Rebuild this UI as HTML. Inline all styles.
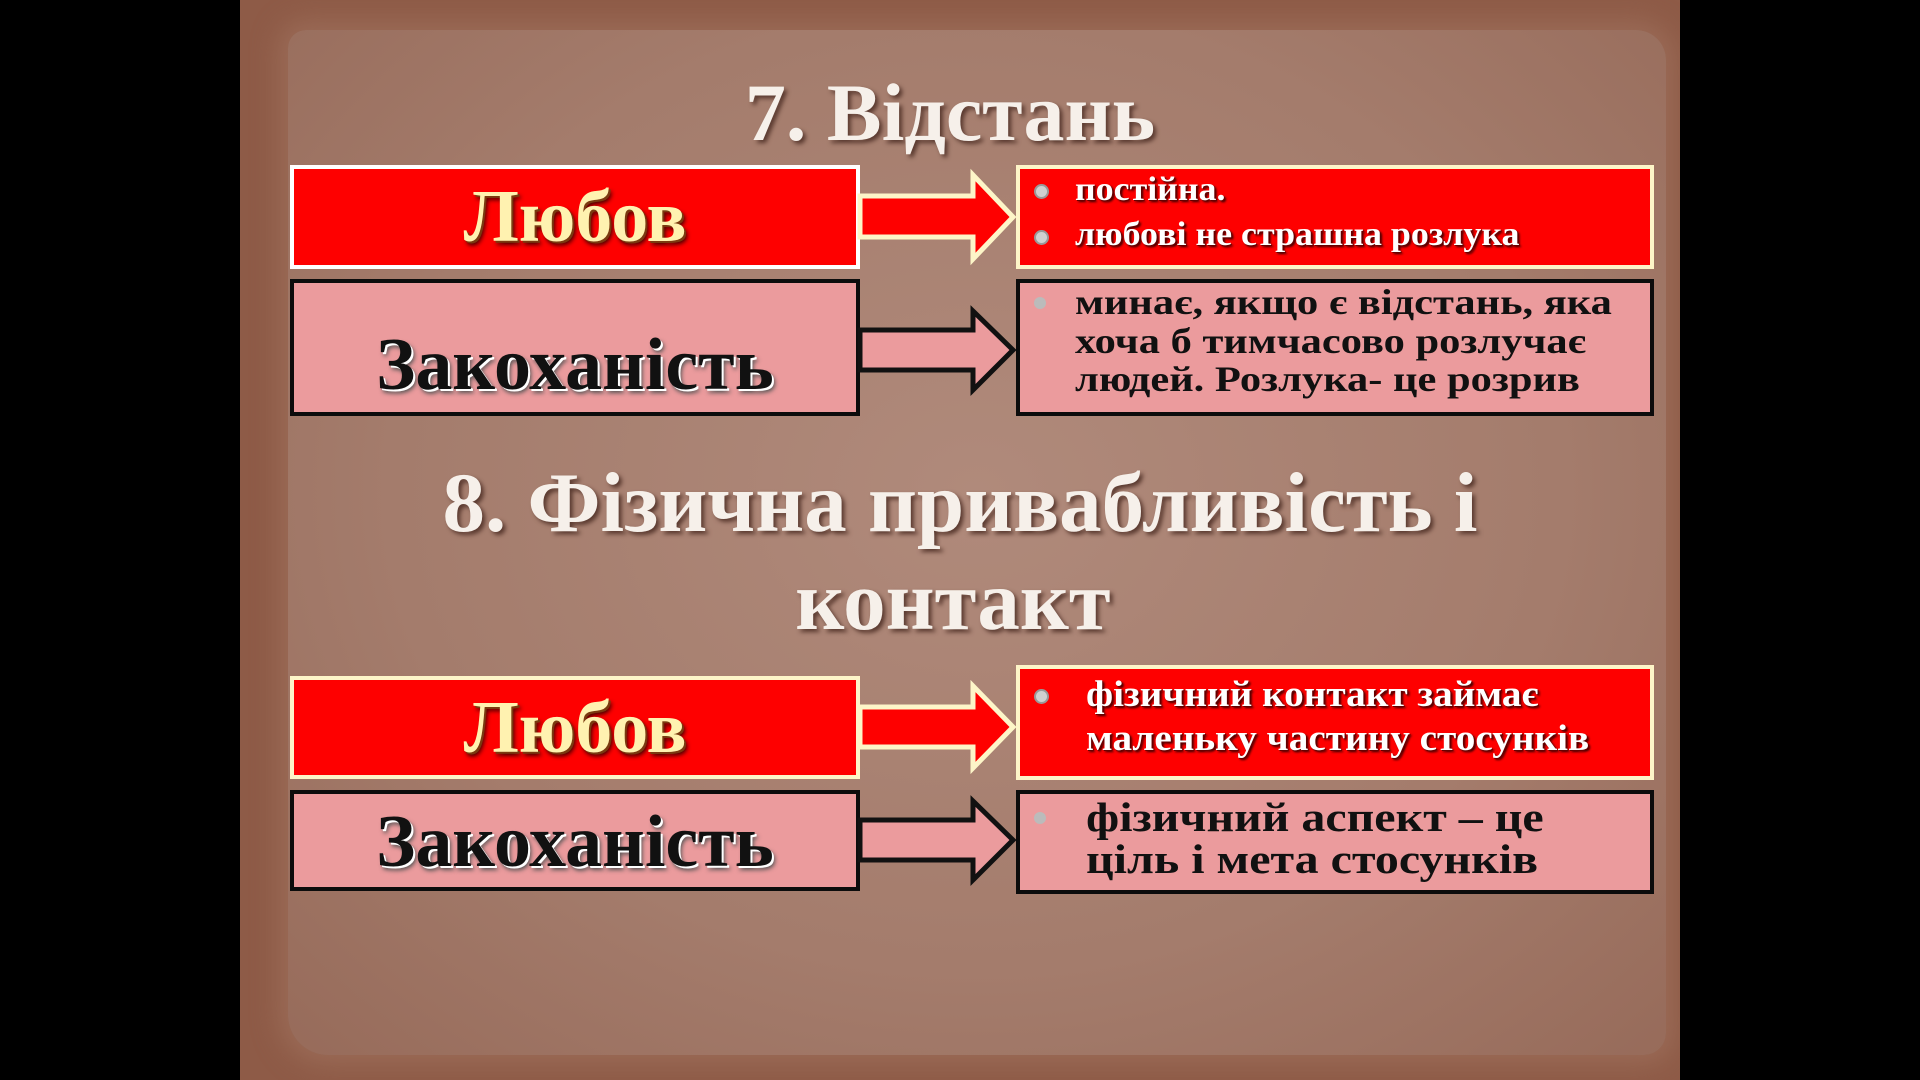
<!DOCTYPE html>
<html><head><meta charset="utf-8"><style>
html,body{margin:0;padding:0;background:#000;width:1920px;height:1080px;overflow:hidden}
#slide{position:absolute;left:240px;top:0;width:1440px;height:1080px;background:#8e5b47;overflow:hidden}
#paper{position:absolute;left:48px;top:30px;width:1378px;height:1025px;background:radial-gradient(ellipse at 50% 45%,#b08a7b 0%,#a47c6c 60%,#976b5a 100%);border-radius:18px 30px 22px 40px;box-shadow:0 0 25px 10px #9a6a56}
.t{position:absolute;font-family:"Liberation Serif",serif;font-weight:bold;text-align:center}
.title{color:#f6f0ea;text-shadow:3px 3px 4px #5a3a30;font-size:82px;left:0;width:1440px}
.box{position:absolute;box-sizing:border-box}
.red{background:#fe0000;border:4px solid #fdf5c8}
.redw{background:#fe0000;border:4px solid #ffffff}
.pink{background:#eb9b9d;border:4px solid #0c0c0c}
.lab{position:absolute;left:0;width:100%;font-family:"Liberation Serif",serif;font-weight:bold;text-align:center;font-size:74px}
.lyub{color:#fff2b0;text-shadow:2px 2px 0 #7a3a10,3px 4px 4px #400}
.zak{color:#111;text-shadow:2px 2px 0 #fff,3px 4px 4px #555}
.txt{position:absolute;font-family:"Liberation Serif",serif;font-weight:bold;transform-origin:0 0;white-space:nowrap}
.wt{color:#fff;font-size:34px;text-shadow:1px 1px 0 #600,2px 2px 2px #300;transform:scaleX(1.056)}
.bk{color:#111;font-size:36px;line-height:38.6px;transform:scaleX(1.18)}
.dot{position:absolute;width:11px;height:11px;border-radius:50%;background:#d0d0d0;border:2px solid #999}
</style></head><body>
<div id="slide">
<div id="paper"></div>
<div class="t title" style="top:66px;left:0;width:1420px">7. Відстань</div>
<div class="t title" style="top:454px;font-size:85px">8. Фізична привабливість і</div>
<div class="t title" style="top:552px;width:1440px;left:-7px;font-size:85px">контакт</div>
</div>

<div class="box redw" style="left:290px;top:165px;width:570px;height:104px"><div class="lab lyub" style="top:6px">Любов</div></div>
<div class="box red" style="left:1016px;top:165px;width:638px;height:104px">
<div class="dot" style="left:14px;top:15px"></div>
<div class="txt wt" style="left:55px;top:2px">постійна.</div>
<div class="dot" style="left:14px;top:61px"></div>
<div class="txt wt" style="left:55px;top:47px">любові не страшна розлука</div>
</div>
<div class="box pink" style="left:290px;top:279px;width:570px;height:137px"><div class="lab zak" style="top:40px">Закоханість</div></div>
<div class="box pink" style="left:1016px;top:279px;width:638px;height:137px">
<div class="dot" style="left:14px;top:14px;background:#bbb;border-color:#bbb;width:8px;height:8px"></div>
<div class="txt bk" style="left:55px;top:0px">минає, якщо є відстань, яка<br>хоча б тимчасово розлучає<br>людей. Розлука- це розрив</div>
</div>

<div class="box red" style="left:290px;top:676px;width:570px;height:103px"><div class="lab lyub" style="top:6px">Любов</div></div>
<div class="box red" style="left:1016px;top:665px;width:638px;height:115px">
<div class="dot" style="left:14px;top:20px"></div>
<div class="txt wt" style="left:66px;top:4px;line-height:44px;font-size:37px;transform:scaleX(1.06)">фізичний контакт займає<br>маленьку частину стосунків</div>
</div>
<div class="box pink" style="left:290px;top:790px;width:570px;height:101px"><div class="lab zak" style="top:6px">Закоханість</div></div>
<div class="box pink" style="left:1016px;top:790px;width:638px;height:104px">
<div class="dot" style="left:14px;top:18px;background:#bbb;border-color:#bbb;width:8px;height:8px"></div>
<div class="txt bk" style="left:66px;top:2px;line-height:42px;font-size:41px;transform:scaleX(1.17)">фізичний аспект – це<br>ціль і мета стосунків</div>
</div>

<svg width="1920" height="1080" style="position:absolute;left:0;top:0" >
<polygon points="860,196 973,196 973,175 1013,217 973,259 973,237 860,237" fill="#fe0000" stroke="#fdf5c8" stroke-width="5"/>
<polygon points="860,330 973,330 973,311 1013,350 973,390 973,370 860,370" fill="#eb9b9d" stroke="#111" stroke-width="5"/>
<polygon points="860,707 973,707 973,686 1013,727 973,768 973,747 860,747" fill="#fe0000" stroke="#fdf5c8" stroke-width="5"/>
<polygon points="860,820 973,820 973,801 1013,840 973,880 973,860 860,860" fill="#eb9b9d" stroke="#111" stroke-width="5"/>
</svg>
</body></html>
